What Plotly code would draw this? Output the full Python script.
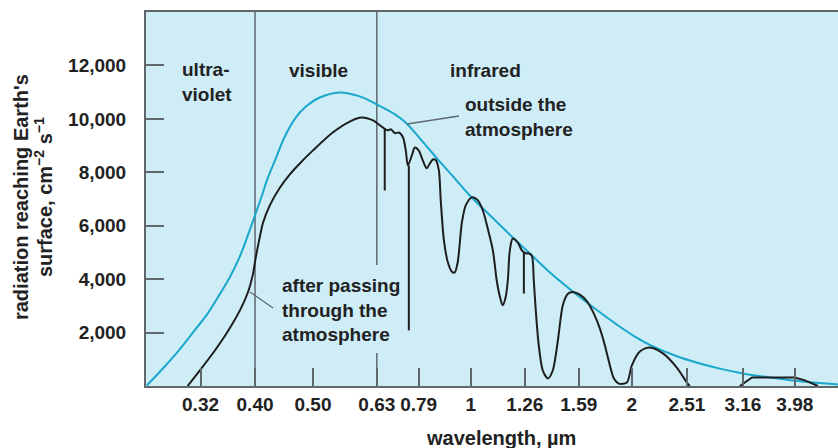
import math
import plotly.graph_objects as go

# ---------------- data ----------------
# solar radiation outside the atmosphere (cyan curve)
outside_wl = [0.254, 0.274, 0.292, 0.311, 0.328, 0.346, 0.361, 0.377, 0.388, 0.402,
              0.414, 0.424, 0.437, 0.456, 0.476, 0.497, 0.529, 0.576, 0.627, 0.674,
              0.728, 0.765, 0.809, 0.870, 0.938, 1.000, 1.089, 1.200, 1.290, 1.405,
              1.548, 1.700, 1.866, 2.014, 2.175, 2.387, 2.655, 2.889, 3.186, 3.573,
              3.939, 4.768]
outside_flux = [20, 730, 1370, 2080, 2680, 3430, 4060, 4850, 5520, 6390,
                7130, 7770, 8420, 9330, 10000, 10430, 10800, 10990, 10840, 10540,
                10170, 9830, 9270, 8520, 7770, 7130, 6390, 5560, 4960, 4250,
                3540, 2900, 2300, 1850, 1480, 1140, 840, 650, 470, 320,
                210, 60]

# radiation after passing through the atmosphere (black curve)
surface_wl = [0.302, 0.321, 0.339, 0.357, 0.377, 0.390, 0.398, 0.403, 0.409, 0.416,
              0.428, 0.446, 0.466, 0.486, 0.514, 0.559, 0.601, 0.632, 0.663, 0.691,
              0.706, 0.715, 0.728, 0.740, 0.753, 0.762, 0.769, 0.782, 0.792, 0.805,
              0.819, 0.833, 0.844, 0.855, 0.866, 0.877, 0.884, 0.896, 0.911, 0.926,
              0.938, 0.950, 0.967, 0.983, 1.009, 1.035, 1.057, 1.079, 1.103, 1.121,
              1.136, 1.150, 1.165, 1.175, 1.185, 1.200, 1.226, 1.247, 1.268, 1.285,
              1.301, 1.312, 1.323, 1.340, 1.363, 1.393, 1.422, 1.453, 1.484, 1.516,
              1.548, 1.595, 1.643, 1.692, 1.737, 1.774, 1.812, 1.843, 1.882, 1.947,
              1.989, 2.058, 2.147, 2.269, 2.407, 2.512, 2.544]
surface_flux = [0, 690, 1330, 2000, 2830, 3500, 4140, 4780, 5450, 6120,
                6760, 7400, 7920, 8330, 8820, 9490, 9900, 10050, 9940, 9680,
                9570, 9610, 9460, 9490, 9310, 8820, 8260, 8630, 8930, 8820,
                8450, 8150, 8330, 8480, 8450, 8070, 6950, 5450, 4630, 4290,
                4250, 4630, 6120, 6760, 7060, 6950, 6570, 5900, 5070, 3950,
                3350, 3020, 3350, 3950, 5070, 5520, 5370, 5080, 4970, 4960,
                4880, 3950, 2830, 1520, 580, 280, 580, 1700, 3020, 3450,
                3520, 3420, 3180, 2720, 2150, 1520, 770, 280, 90, 130,
                770, 1290, 1440, 1220, 690, 130, 0]

# far-infrared window of the surface curve
far_wl = [3.145, 3.227, 3.311, 3.573, 3.972, 4.145, 4.288, 4.380]
far_flux = [0, 170, 320, 320, 320, 210, 90, 0]

# narrow absorption lines (drawn as vertical strokes)
spike_wl = [0.697, 0.772, 1.258]
spike_top = [9640, 8260, 5030]
spike_bottom = [7320, 2080, 3460]

# axis ticks (the original figure's hand-placed ticks are not evenly spaced)
tick_labels = ["0.32", "0.40", "0.50", "0.63", "0.79", "1", "1.26", "1.59",
               "2", "2.51", "3.16", "3.98"]
tick_positions = [0.319, 0.402, 0.514, 0.674, 0.805, 1.004, 1.263, 1.588,
                  1.989, 2.512, 3.186, 3.972]
y_ticks = [2000, 4000, 6000, 8000, 10000, 12000]

# ---------------- styling ----------------
BG = "#ceedf7"
CYAN = "#1aa7cc"
BLACK = "#1e1e1e"
AXIS = "#5f686d"
TEXT = "#222222"
FONT = "Liberation Sans, Arial, sans-serif"
FS = 19

fig = go.Figure()

fig.add_trace(go.Scatter(x=outside_wl, y=outside_flux, mode="lines",
                         line=dict(color=CYAN, width=2, shape="spline", smoothing=1.0),
                         hoverinfo="skip", showlegend=False))
fig.add_trace(go.Scatter(x=surface_wl, y=surface_flux, mode="lines",
                         line=dict(color=BLACK, width=2, shape="spline", smoothing=0.8),
                         hoverinfo="skip", showlegend=False))
fig.add_trace(go.Scatter(x=far_wl, y=far_flux, mode="lines",
                         line=dict(color=BLACK, width=2),
                         hoverinfo="skip", showlegend=False))

sx, sy = [], []
for w, t, b in zip(spike_wl, spike_top, spike_bottom):
    sx += [w, w, None]
    sy += [t, b, None]
fig.add_trace(go.Scatter(x=sx, y=sy, mode="lines",
                         line=dict(color=BLACK, width=2),
                         hoverinfo="skip", showlegend=False))

# region boundaries at 0.40 and 0.63 µm
shapes = [
    dict(type="line", xref="x", yref="paper", x0=tick_positions[1], x1=tick_positions[1],
         y0=0, y1=1, line=dict(color=AXIS, width=1.5), layer="below"),
    dict(type="line", xref="x", yref="paper", x0=tick_positions[3], x1=tick_positions[3],
         y0=0.3235, y1=1, line=dict(color=AXIS, width=1.5), layer="below"),
    dict(type="line", xref="x", yref="paper", x0=tick_positions[3], x1=tick_positions[3],
         y0=0, y1=0.0882, line=dict(color=AXIS, width=1.5), layer="below"),
    # leader lines
    dict(type="line", xref="paper", yref="paper", x0=0.3772, y0=0.7005, x1=0.4523, y1=0.7219,
         line=dict(color=AXIS, width=1.3)),
    dict(type="line", xref="paper", yref="paper", x0=0.1503, y0=0.2513, x1=0.1835, y1=0.2086,
         line=dict(color=AXIS, width=1.3)),
]

def ann(text, x, y, xanchor="left", align="left", size=FS, angle=0):
    return dict(text=text, x=x, y=y, xref="paper", yref="paper", showarrow=False,
                xanchor=xanchor, yanchor="middle", align=align, textangle=angle,
                font=dict(family=FONT, size=size, color=TEXT, weight="bold"))

annotations = [
    ann("ultra-<br>violet", 0.0491, 0.8128),
    ann("visible", 0.2486, 0.8449, xanchor="center", align="center"),
    ann("infrared", 0.4364, 0.8449),
    ann("outside the<br>atmosphere", 0.4581, 0.7193),
    ann("after passing<br>through the<br>atmosphere", 0.1936, 0.2032),
    ann("wavelength, µm", 0.513, -0.139, xanchor="center", align="center", size=20),
    ann("radiation reaching Earth's", -0.1806, 0.5053, xanchor="center",
        align="center", size=20, angle=-90),
    ann("surface, cm<sup>−2</sup> s<sup>−1</sup>", -0.1488, 0.5053, xanchor="center",
        align="center", size=20, angle=-90),
]

fig.update_layout(
    width=838, height=448, autosize=False,
    margin=dict(l=146, r=0, t=12, b=62),
    paper_bgcolor="white", plot_bgcolor=BG,
    font=dict(family=FONT, size=FS, color=TEXT, weight="bold"),
    shapes=shapes, annotations=annotations,
    showlegend=False,
)
fig.update_xaxes(
    type="log", range=[math.log10(0.2531), math.log10(4.77)],
    tickmode="array", tickvals=tick_positions, ticktext=tick_labels,
    ticks="inside", ticklen=18, tickwidth=1.5, tickcolor=AXIS,
    showline=True, linecolor=AXIS, linewidth=2, mirror=True,
    showgrid=False, zeroline=False, ticklabelstandoff=0, automargin=False,
    tickfont=dict(family=FONT, size=FS, color=TEXT, weight="bold"),
)
fig.update_yaxes(
    range=[0, 14000],
    tickmode="array", tickvals=y_ticks, ticktext=[f"{v:,}" for v in y_ticks],
    ticks="inside", ticklen=18, tickwidth=1.5, tickcolor=AXIS,
    showline=True, linecolor=AXIS, linewidth=2, mirror=False,
    showgrid=False, zeroline=False, ticklabelstandoff=14, automargin=False,
    tickfont=dict(family=FONT, size=FS, color=TEXT, weight="bold"),
)

fig.write_html("out.html",
               config={"displayModeBar": False},
               post_script="document.body.style.margin='0';"
                           "document.body.style.overflow='hidden';")
